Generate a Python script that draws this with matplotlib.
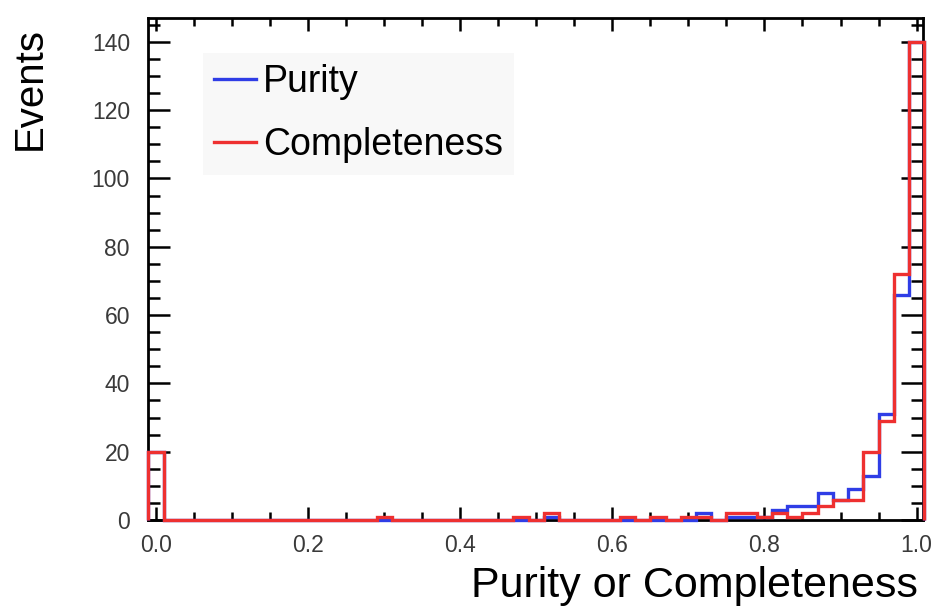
import numpy as np
import matplotlib
matplotlib.use("Agg")
import matplotlib.pyplot as plt
from matplotlib.ticker import MultipleLocator, FormatStrFormatter

plt.rcParams['font.family'] = ['Liberation Sans', 'DejaVu Sans']

# bin centres 0.00, 0.02, ... 1.00 (width 0.02)
bin_centres = np.round(np.arange(0, 51) * 0.02, 2)
bin_edges = np.round(np.arange(0, 52) * 0.02 - 0.01, 3)

# non-empty bins: centre -> events
purity_counts = {0.00: 20, 0.52: 1, 0.72: 2, 0.76: 1, 0.78: 1, 0.80: 1,
                 0.82: 3, 0.84: 4, 0.86: 4, 0.88: 8, 0.90: 6, 0.92: 9,
                 0.94: 13, 0.96: 31, 0.98: 66, 1.00: 140}
completeness_counts = {0.00: 20, 0.30: 1, 0.48: 1, 0.52: 2, 0.62: 1, 0.66: 1,
                       0.70: 1, 0.72: 1, 0.76: 2, 0.78: 2, 0.80: 1, 0.82: 2,
                       0.84: 1, 0.86: 2, 0.88: 4, 0.90: 6, 0.92: 6, 0.94: 20,
                       0.96: 29, 0.98: 72, 1.00: 140}

purity = np.array([purity_counts.get(c, 0) for c in bin_centres])
completeness = np.array([completeness_counts.get(c, 0) for c in bin_centres])

fig = plt.figure(figsize=(9.35, 6.14), dpi=100)
ax = fig.add_axes([0.1583, 0.1531, 0.8289, 0.8176])

# drawn above the frame so the zero-level line shows along the bottom, as in ROOT
ax.stairs(purity, bin_edges, color='#2f3de6', linewidth=2.4, label='Purity',
          zorder=3, clip_on=False)
ax.stairs(completeness, bin_edges, color='#ee3030', linewidth=2.4, label='Completeness',
          zorder=3.1, clip_on=False)

ax.set_xlim(-0.0105, 1.0085)
ax.set_ylim(0, 147)

ax.xaxis.set_major_locator(MultipleLocator(0.2))
ax.xaxis.set_minor_locator(MultipleLocator(0.05))
ax.xaxis.set_major_formatter(FormatStrFormatter('%.1f'))
ax.yaxis.set_major_locator(MultipleLocator(20))
ax.yaxis.set_minor_locator(MultipleLocator(5))

ax.tick_params(axis='both', which='both', direction='in', top=True, right=True,
               width=1.8, colors='black', labelcolor='#3a3a3a', labelsize=16.5)
ax.tick_params(axis='x', which='major', length=9.5, pad=10)
ax.tick_params(axis='x', which='minor', length=5.5)
ax.tick_params(axis='y', which='major', length=16, pad=13)
ax.tick_params(axis='y', which='minor', length=8.5)

for sp in ax.spines.values():
    sp.set_linewidth(2.0)

ax.set_xlabel('Purity or Completeness', fontsize=31, loc='right')
ax.xaxis.set_label_coords(0.9935, -0.091)
ax.set_ylabel('Events', fontsize=29, loc='top')
ax.yaxis.set_label_coords(-0.128, 0.982)

leg = ax.legend(loc='upper left', bbox_to_anchor=(0.071, 0.93), fontsize=27,
                frameon=True, facecolor='#f8f8f8', edgecolor='none', framealpha=1,
                fancybox=False, handlelength=1.1, handletextpad=0.2,
                labelspacing=0.72, borderpad=0.3, borderaxespad=0)

fig.savefig('out.png', dpi=100)
